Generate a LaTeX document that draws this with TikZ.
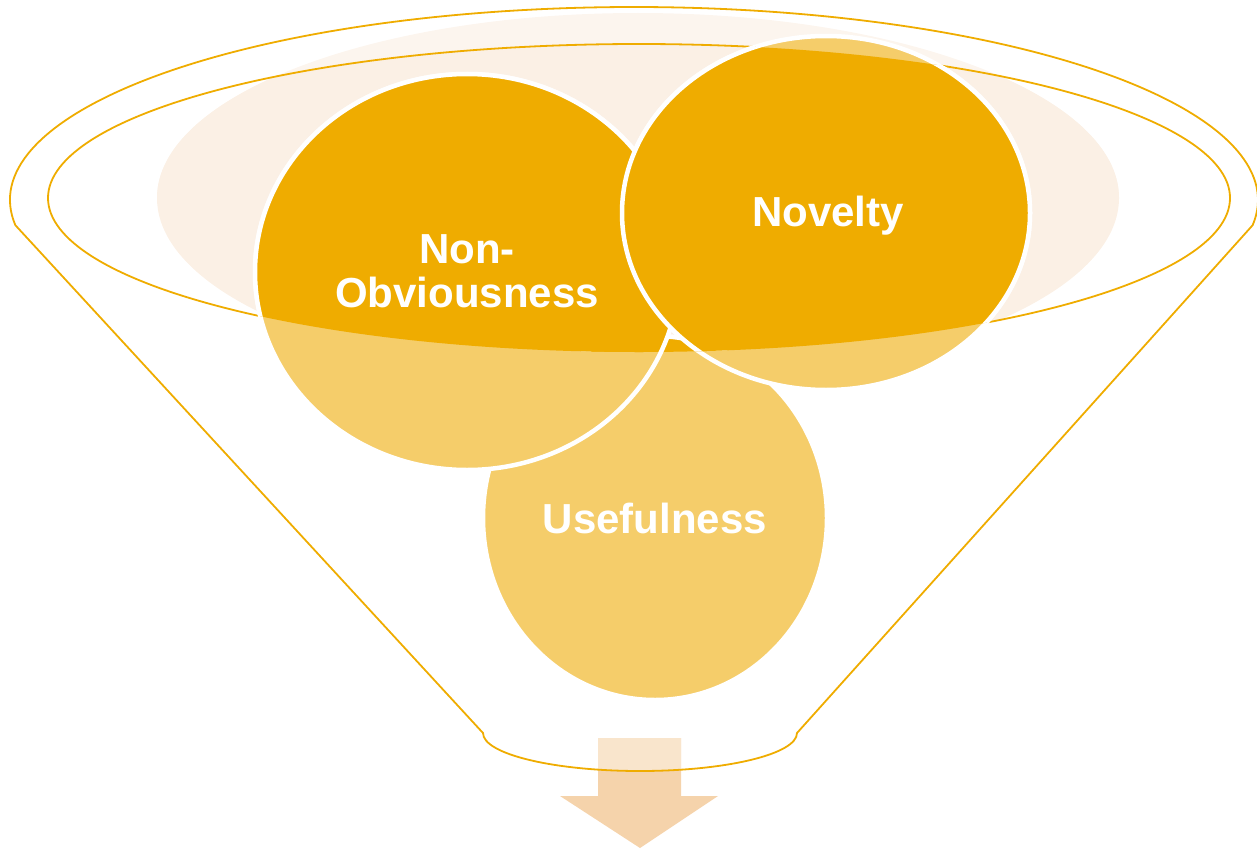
\documentclass[tikz,border=0pt]{standalone}
\usepackage{fontspec}
\setmainfont{Liberation Sans}
\usepackage{tikz}
\definecolor{gold}{HTML}{EFAC00}
\definecolor{goldpale}{HTML}{F5CD6A}
\definecolor{beige}{HTML}{FBF0E5}
\definecolor{beigepale}{HTML}{FCF5EE}
\definecolor{peach}{HTML}{F5D3AB}
\definecolor{peachpale}{HTML}{F9E5CC}

\begin{document}
\begin{tikzpicture}[x=1pt,y=-1pt,
    rim/.style={draw=gold,line width=1.8pt},
    blob/.style={draw=white,line width=4.5pt},
    word/.style={text=white,font=\fontsize{42}{44}\selectfont\bfseries,align=center}]
  \useasboundingbox (0,0) rectangle (1257,851);
  \fill[peach] (598,738) -- (681,738) -- (681,796) -- (718,796) -- (640,848) -- (560,796) -- (598,796) -- cycle;
  \begin{scope}
    \clip (483,733) arc[start angle=180,end angle=0,x radius=157,y radius=38] -- (797,700) -- (483,700) -- cycle;
    \fill[peachpale] (598,738) rectangle (681,800);
  \end{scope}
  \draw[rim] ([shift={(172.5:624 and 193)}]634,200) arc[start angle=172.5,end angle=367.5,x radius=624,y radius=193]
    -- (797,733) arc[start angle=0,end angle=180,x radius=157,y radius=38] -- cycle;
  \begin{scope}
    \clip (0,0) rectangle (1257,198);
    \fill[beigepale] (638,198) ellipse[x radius=481,y radius=185];
  \end{scope}
  \begin{scope}
    \clip (639,198) ellipse[x radius=591,y radius=154];
    \fill[beige] (638,198) ellipse[x radius=481,y radius=185];
  \end{scope}
  \draw[rim] (639,198) ellipse[x radius=591,y radius=154];
  \path[blob,fill=goldpale] (655,518) ellipse[x radius=172,y radius=182];
  \path[blob,fill=goldpale] (467,272) ellipse[x radius=212,y radius=198];
  \path[blob,fill=goldpale] (826,213) ellipse[x radius=204,y radius=177];
  \begin{scope}
    \clip (639,198) ellipse[x radius=591,y radius=154];
    \path[blob,fill=gold] (655,518) ellipse[x radius=172,y radius=182];
    \path[blob,fill=gold] (467,272) ellipse[x radius=212,y radius=198];
    \path[blob,fill=gold] (826,213) ellipse[x radius=204,y radius=177];
  \end{scope}
  \node[word] (obvious) at (467,271) {Non-\\Obviousness};
  \node[word] (novelty) at (828,216) {Novelty};
  \node[word] (useful) at (655,518) {Usefulness};
\end{tikzpicture}
\end{document}
